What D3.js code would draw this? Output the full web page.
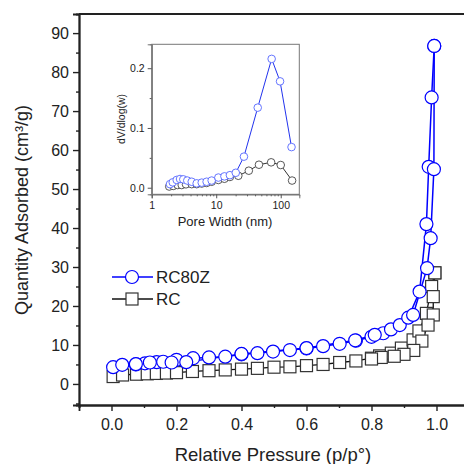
<!DOCTYPE html>
<html lang="en">
<head>
<meta charset="UTF-8">
<title>Isotherm</title>
<script src="https://d3js.org/d3.v7.min.js"></script>
<style>
  body { margin: 0; background: #fff; }
  text { font-family: "Liberation Sans", Arial, sans-serif; fill: #222; }
</style>
</head>
<body>
<div id="chart"></div>
<script>
// main isotherm data, RC80Z (adsorption then desorption)
var rc80zAdsX = [0.005, 0.033, 0.075, 0.103, 0.139, 0.159, 0.2, 0.251, 0.3, 0.35, 0.4, 0.449, 0.497, 0.549, 0.6, 0.651, 0.702, 0.752, 0.8, 0.836, 0.86, 0.887, 0.913, 0.948, 0.969, 0.976, 0.985, 0.993];
var rc80zAdsY = [4.3, 4.9, 5.0, 5.3, 5.6, 5.7, 6.2, 6.6, 6.8, 7.0, 7.6, 7.9, 8.3, 8.7, 9.1, 9.7, 10.3, 11.1, 12.1, 13.0, 14.0, 15.1, 17.0, 23.7, 41.0, 55.7, 73.5, 86.7];
var rc80zDesX = [0.993, 0.992, 0.982, 0.971, 0.928, 0.81, 0.75, 0.6, 0.4, 0.23, 0.185, 0.118, 0.075];
var rc80zDesY = [86.7, 55.1, 37.4, 29.7, 17.7, 12.6, 11.2, 9.2, 7.7, 5.6, 5.5, 5.5, 5.1];

// RC
var rcAdsX = [0.005, 0.034, 0.077, 0.11, 0.138, 0.169, 0.2, 0.249, 0.3, 0.35, 0.4, 0.449, 0.5, 0.549, 0.6, 0.651, 0.702, 0.752, 0.8, 0.825, 0.861, 0.892, 0.928, 0.946, 0.969, 0.985, 0.995];
var rcAdsY = [1.9, 2.3, 2.5, 2.6, 2.7, 2.8, 2.9, 3.2, 3.4, 3.6, 3.8, 4.0, 4.3, 4.4, 4.7, 5.0, 5.5, 5.9, 6.6, 7.2, 7.9, 9.2, 11.3, 13.6, 18.1, 25.0, 28.5];
var rcDesX = [0.995, 0.99, 0.99, 0.974, 0.955, 0.93, 0.9, 0.87, 0.83, 0.8];
var rcDesY = [28.5, 22.4, 17.7, 15.1, 11.0, 8.6, 7.6, 7.1, 6.8, 6.4];

// inset pore size distribution
var poreBlueW = [1.92, 2.12, 2.44, 2.75, 3.09, 3.56, 4.17, 4.98, 5.96, 7.1, 8.5, 10.8, 13.4, 16.3, 20.1, 26.9, 44, 72.3, 97.6, 147];
var poreBlueV = [0.006, 0.009, 0.013, 0.0146, 0.014, 0.012, 0.010, 0.0073, 0.0085, 0.010, 0.012, 0.017, 0.019, 0.021, 0.025, 0.052, 0.134, 0.2156, 0.178, 0.068];
var poreBlackW = [1.87, 2.16, 2.53, 2.92, 3.4, 4.17, 4.98, 5.96, 7.1, 8.5, 10.8, 13.4, 16.3, 22, 32, 46, 71, 100, 150];
var poreBlackV = [0.002, 0.003, 0.0045, 0.0045, 0.0057, 0.006, 0.006, 0.007, 0.008, 0.010, 0.013, 0.015, 0.018, 0.020, 0.0285, 0.0385, 0.0425, 0.038, 0.012];

var xTicks = [0, 0.2, 0.4, 0.6, 0.8, 1.0];
var yTicks = [0, 10, 20, 30, 40, 50, 60, 70, 80, 90];
var insetYTicks = [0, 0.1, 0.2];
var insetXTicks = [1, 10, 100];

var W = 464, H = 464;
var svg = d3.select("#chart").append("svg")
  .attr("width", W).attr("height", H);

var x = d3.scaleLinear().domain([-0.1, 1.1]).range([79, 469]);
var y = d3.scaleLinear().domain([-5.4, 94.9]).range([405, 14]);

function zip(a, b) { return a.map(function(v, i) { return [v, b[i]]; }); }

// axes
var xMinor = d3.range(-0.1, 1.1, 0.1).filter(function(v){ return Math.abs(Math.round(v*5) - v*5) > 0.01; });
var yMinor = d3.range(-5, 95, 10);

svg.append("g").attr("transform", "translate(0,405)")
  .call(d3.axisBottom(x).tickValues(xMinor).tickSize(3).tickFormat(""));
svg.append("g").attr("transform", "translate(0,405)")
  .call(d3.axisBottom(x).tickValues(xTicks).tickSize(6).tickPadding(8).tickFormat(d3.format(".1f")))
  .call(function(g){ g.selectAll("text").attr("font-size", 16).attr("fill", "#222"); });
svg.append("g").attr("transform", "translate(79,0)")
  .call(d3.axisLeft(y).tickValues(yMinor).tickSize(3).tickFormat(""));
svg.append("g").attr("transform", "translate(79,0)")
  .call(d3.axisLeft(y).tickValues(yTicks).tickSize(6).tickPadding(4))
  .call(function(g){ g.selectAll("text").attr("font-size", 16).attr("fill", "#222"); });
svg.selectAll(".domain").attr("stroke", "#222").attr("stroke-width", 1.8);
svg.selectAll(".tick line").attr("stroke", "#222").attr("stroke-width", 1.4);
svg.append("line").attr("x1", 79).attr("x2", W).attr("y1", 14).attr("y2", 14)
  .attr("stroke", "#222").attr("stroke-width", 1.8);

svg.append("text").attr("x", 273).attr("y", 461).attr("text-anchor", "middle")
  .attr("font-size", 18.5).text("Relative Pressure (p/p°)");
svg.append("text").attr("transform", "translate(28,210) rotate(-90)")
  .attr("text-anchor", "middle").attr("font-size", 18).text("Quantity Adsorbed (cm³/g)");

var line = d3.line().x(function(d){ return x(d[0]); }).y(function(d){ return y(d[1]); });

// RC series
[zip(rcAdsX, rcAdsY), zip(rcDesX, rcDesY)].forEach(function(pts) {
  svg.append("path").datum(pts).attr("d", line)
    .attr("fill", "none").attr("stroke", "#111").attr("stroke-width", 1.3);
});
[zip(rcAdsX, rcAdsY), zip(rcDesX, rcDesY)].forEach(function(pts) {
  svg.append("g").selectAll("rect").data(pts).join("rect")
    .attr("x", function(d){ return x(d[0]) - 6; })
    .attr("y", function(d){ return y(d[1]) - 6; })
    .attr("width", 12).attr("height", 12)
    .attr("fill", "#fff").attr("stroke", "#333").attr("stroke-width", 1.2);
});

// RC80Z series
[zip(rc80zAdsX, rc80zAdsY), zip(rc80zDesX, rc80zDesY)].forEach(function(pts) {
  svg.append("path").datum(pts).attr("d", line)
    .attr("fill", "none").attr("stroke", "#0000ff").attr("stroke-width", 1.5);
});
[zip(rc80zAdsX, rc80zAdsY), zip(rc80zDesX, rc80zDesY)].forEach(function(pts) {
  svg.append("g").selectAll("circle").data(pts).join("circle")
    .attr("cx", function(d){ return x(d[0]); })
    .attr("cy", function(d){ return y(d[1]); })
    .attr("r", 6.5)
    .attr("fill", "#fff").attr("stroke", "#0000ff").attr("stroke-width", 1.2);
});

// legend
var lg = svg.append("g");
lg.append("line").attr("x1", 112).attr("x2", 153).attr("y1", 277).attr("y2", 277)
  .attr("stroke", "#0000ff").attr("stroke-width", 1.5);
lg.append("circle").attr("cx", 132).attr("cy", 277).attr("r", 6.5)
  .attr("fill", "#fff").attr("stroke", "#0000ff").attr("stroke-width", 1.2);
lg.append("text").attr("x", 156).attr("y", 283).attr("font-size", 17).text("RC80Z");
lg.append("line").attr("x1", 112).attr("x2", 153).attr("y1", 299).attr("y2", 299)
  .attr("stroke", "#111").attr("stroke-width", 1.3);
lg.append("rect").attr("x", 126).attr("y", 293).attr("width", 12).attr("height", 12)
  .attr("fill", "#fff").attr("stroke", "#333").attr("stroke-width", 1.2);
lg.append("text").attr("x", 156).attr("y", 305).attr("font-size", 17).text("RC");

// inset
var ix = d3.scaleLog().domain([1, 194]).range([151.7, 299.3]);
var iy = d3.scaleLinear().domain([-0.011, 0.24]).range([194.3, 44.3]);
var inset = svg.append("g");
inset.append("rect").attr("x", 151.7).attr("y", 44.3).attr("width", 147.6).attr("height", 150)
  .attr("fill", "#fff").attr("stroke", "#777").attr("stroke-width", 1);

var ixMinor = [];
[1, 10, 100].forEach(function(d){ for (var k = 2; k <= 9; k++) if (d*k <= 194) ixMinor.push(d*k); });
inset.append("g").attr("transform", "translate(0,194.3)")
  .call(d3.axisBottom(ix).tickValues(ixMinor).tickSize(2).tickFormat(""));
inset.append("g").attr("transform", "translate(0,194.3)")
  .call(d3.axisBottom(ix).tickValues(insetXTicks).tickSize(4).tickPadding(3).tickFormat(d3.format("d")))
  .call(function(g){ g.selectAll("text").attr("font-size", 10.5).attr("fill", "#222"); });
inset.append("g").attr("transform", "translate(151.7,0)")
  .call(d3.axisLeft(iy).tickValues([0.05, 0.15]).tickSize(2).tickFormat(""));
inset.append("g").attr("transform", "translate(151.7,0)")
  .call(d3.axisLeft(iy).tickValues(insetYTicks).tickSize(4).tickPadding(3).tickFormat(d3.format(".1f")))
  .call(function(g){ g.selectAll("text").attr("font-size", 10.5).attr("fill", "#222"); });
inset.selectAll(".domain").attr("stroke", "#777");
inset.selectAll(".tick line").attr("stroke", "#555");

inset.append("text").attr("x", 225).attr("y", 226).attr("text-anchor", "middle")
  .attr("font-size", 13).text("Pore Width (nm)");
inset.append("text").attr("transform", "translate(125,119) rotate(-90)")
  .attr("text-anchor", "middle").attr("font-size", 10.5).text("dV/dlog(w)");

var iline = d3.line().x(function(d){ return ix(d[0]); }).y(function(d){ return iy(d[1]); });
var blackPts = zip(poreBlackW, poreBlackV);
var bluePts = zip(poreBlueW, poreBlueV);
inset.append("path").datum(blackPts).attr("d", iline)
  .attr("fill", "none").attr("stroke", "#333").attr("stroke-width", 1);
inset.append("g").selectAll("circle").data(blackPts).join("circle")
  .attr("cx", function(d){ return ix(d[0]); }).attr("cy", function(d){ return iy(d[1]); })
  .attr("r", 3.8).attr("fill", "#fff").attr("stroke", "#444").attr("stroke-width", 0.9);
inset.append("path").datum(bluePts).attr("d", iline)
  .attr("fill", "none").attr("stroke", "#2233ee").attr("stroke-width", 1);
inset.append("g").selectAll("circle").data(bluePts).join("circle")
  .attr("cx", function(d){ return ix(d[0]); }).attr("cy", function(d){ return iy(d[1]); })
  .attr("r", 3.8).attr("fill", "#fff").attr("stroke", "#5566ff").attr("stroke-width", 0.9);
</script>
</body>
</html>
